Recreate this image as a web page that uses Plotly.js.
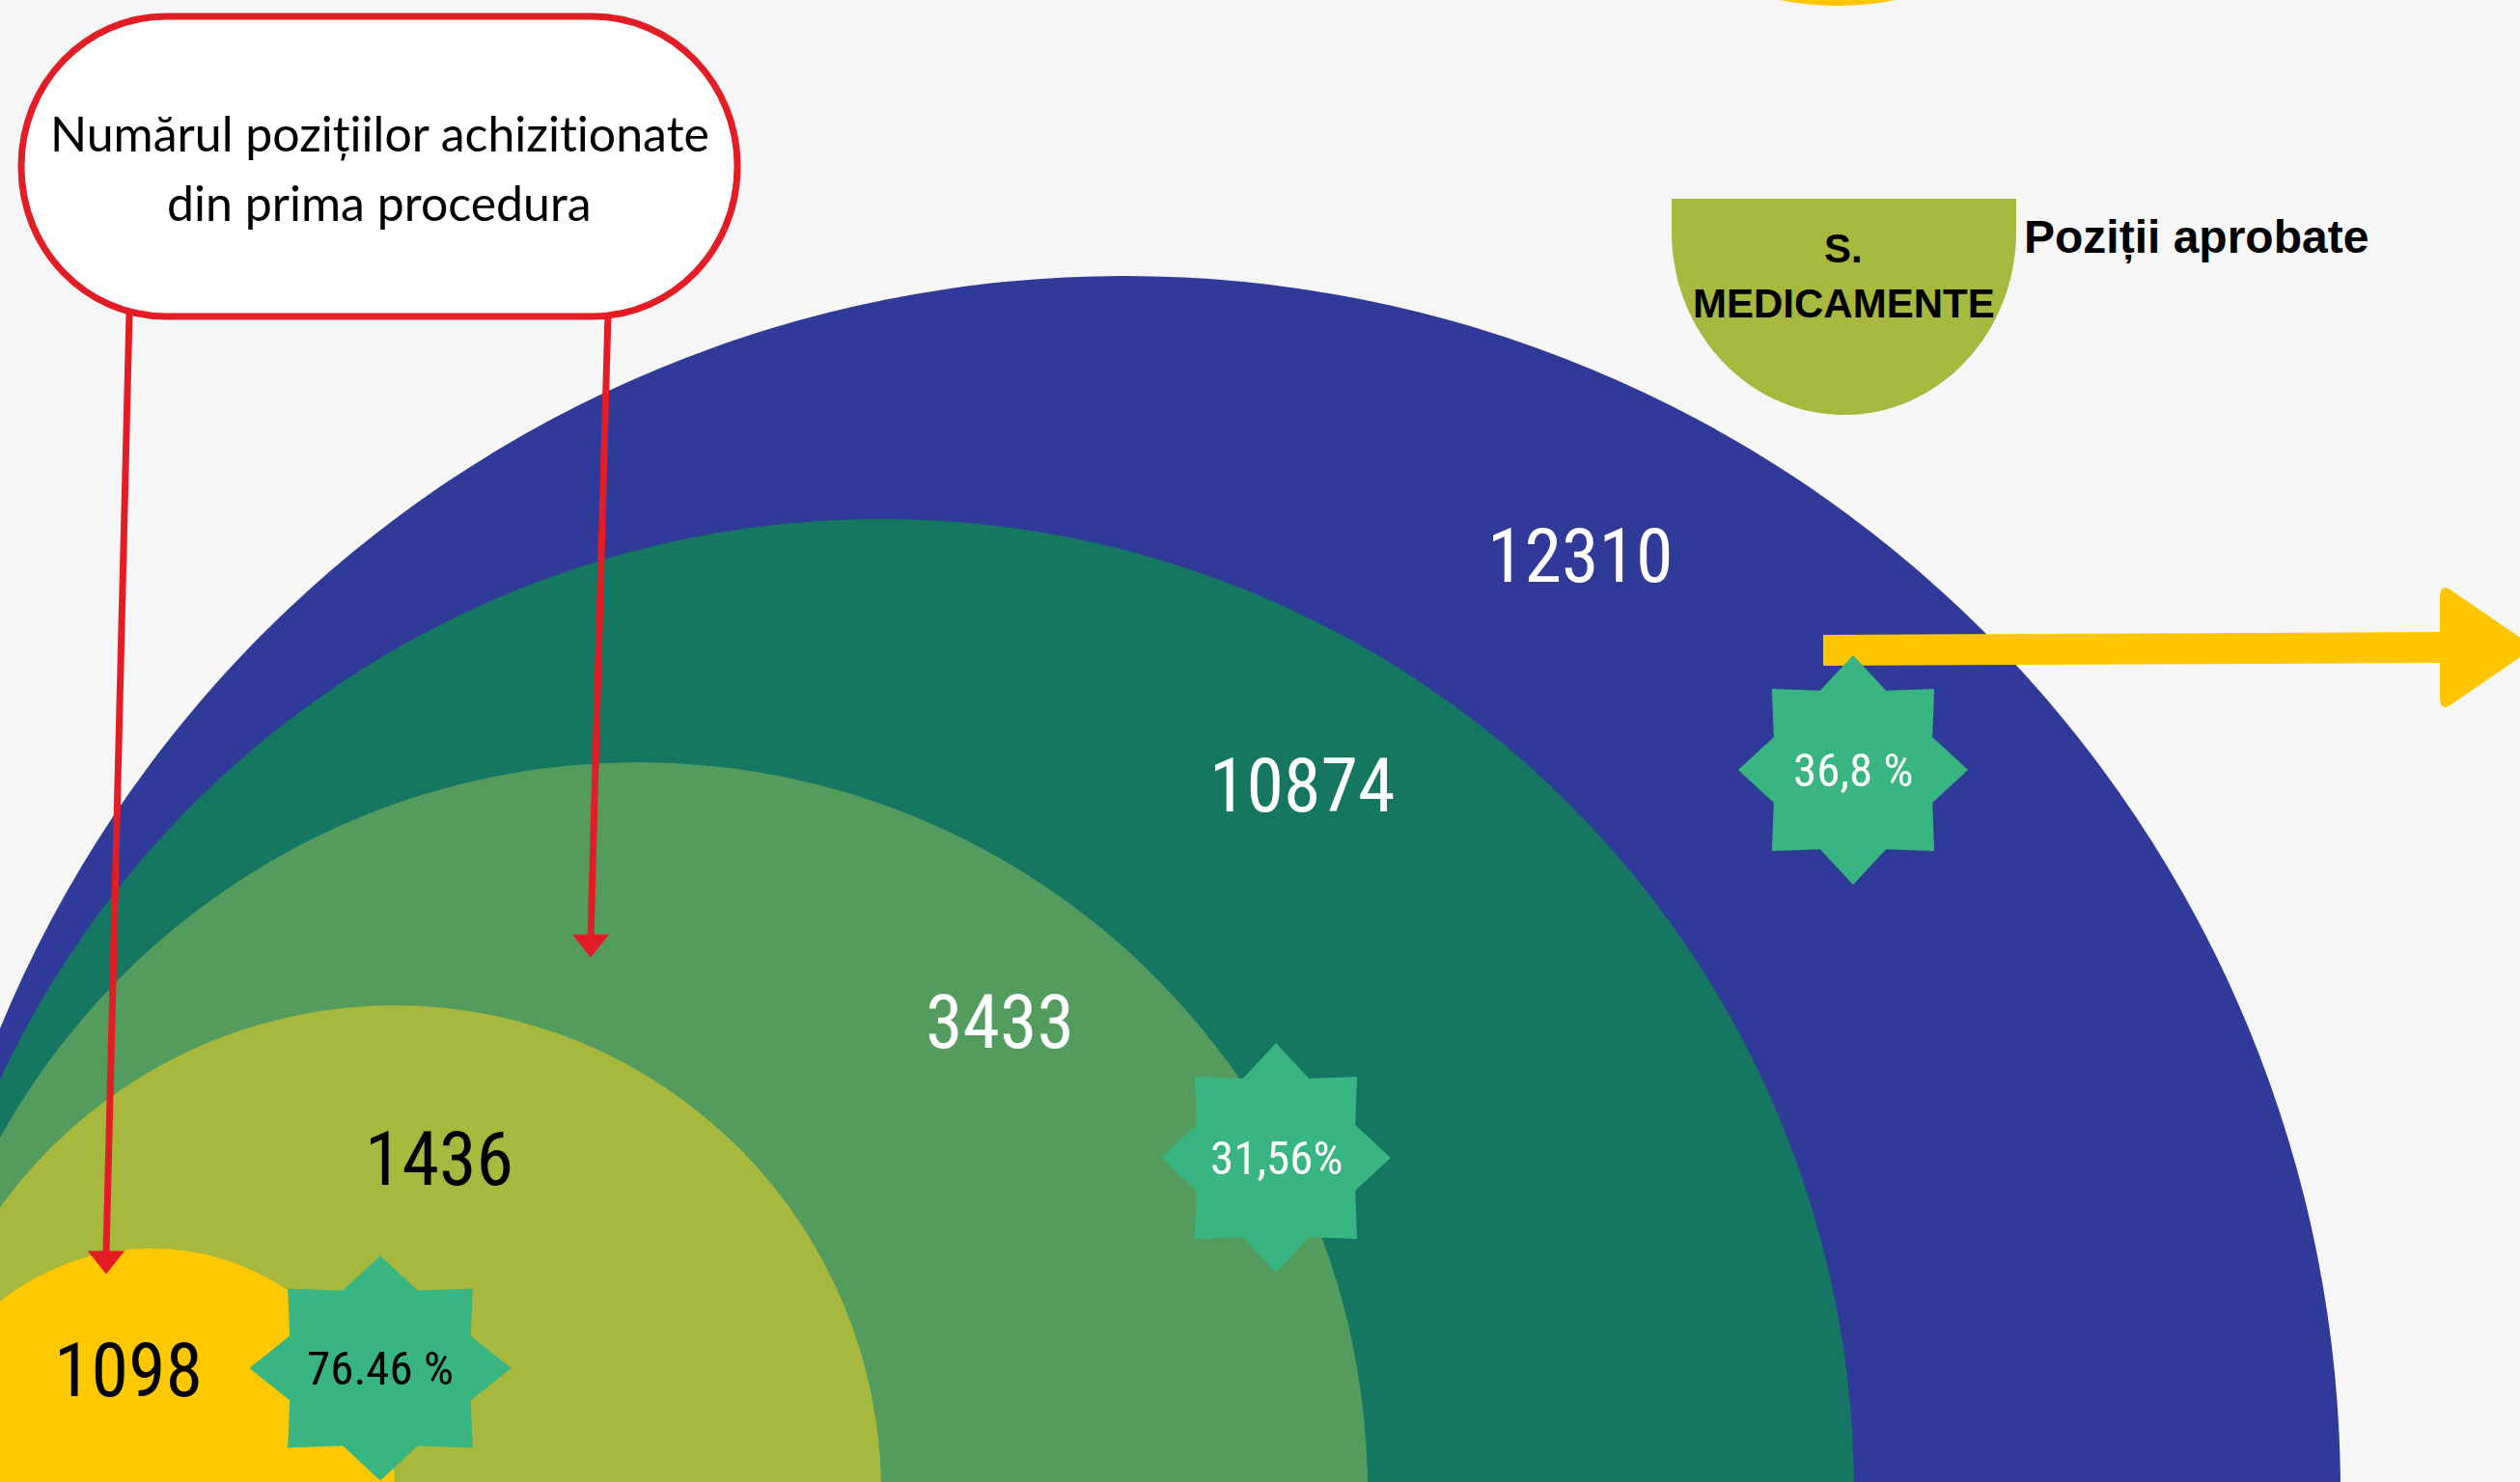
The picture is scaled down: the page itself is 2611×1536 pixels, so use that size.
<!DOCTYPE html>
<html>
<head>
<meta charset="utf-8">
<script src="https://cdn.plot.ly/plotly-3.0.1.min.js"></script>
<style>
  html, body { margin: 0; padding: 0; background: #f6f6f6; }
  #chart { width: 2611px; height: 1536px; }
  svg text { font-variant-ligatures: none; font-feature-settings: "liga" 0, "clig" 0; }
</style>
</head>
<body>
<div id="chart"></div>
<script>
// ---------------- DATA ----------------
const ringValues = [12310, 10874, 3433, 1436, 1098];
const ringLabels = ['12310', '10874', '3433', '1436', '1098'];
const percentLabels = ['36,8 %', '31,56%', '76.46 %'];
const calloutLines = ['Numărul pozițiilor achizitionate', 'din prima procedura'];
const legendLines = ['S.', 'MEDICAMENTE'];
const legendTitle = 'Poziții aprobate';

// ---------------- STYLE / GEOMETRY ----------------
const W = 2611, H = 1536;
const BG = '#f6f6f6';
const ringColors = ['#303a99', '#157762', '#549c5e', '#a7b83e', '#ffc800'];
const ringTextColors = ['#ffffff', '#ffffff', '#ffffff', '#000000', '#000000'];
const RING_STEP = 252, RING_LEFT = -95, RING_BASE_Y = 1546;
const labelPos = [[1637, 576], [1349, 814], [1036, 1059], [455, 1201], [133, 1420]];
const starColor = '#38b581';
const starGeom = [
  {cx: 1920, cy: 798, sx: 1, sy: 1, color: '#ffffff'},
  {cx: 1322, cy: 1200, sx: 1, sy: 1, color: '#ffffff'},
  {cx: 394, cy: 1418, sx: 1.14, sy: 0.98, color: '#000000'}
];
const STAR_R = 119, STAR_r = 89;
const RED = '#e31d25';
const YELLOW = '#ffc600';
const OLIVE = '#a7b83e';
const numFont = 'Liberation Sans Narrow, Roboto Condensed, Lato, sans-serif';
const txtFont = 'Lato, Liberation Sans, sans-serif';
const boldFont = 'Liberation Sans, Arial, sans-serif';

const shapes = [];

// nested rings, outer first
ringValues.forEach((v, k) => {
  const r = RING_STEP * (ringValues.length - k);
  const cx = RING_LEFT + r;
  shapes.push({
    type: 'circle', xref: 'x', yref: 'y',
    x0: cx - r, x1: cx + r, y0: RING_BASE_Y - r, y1: RING_BASE_Y + r,
    fillcolor: ringColors[k], line: {width: 0}, layer: 'above'
  });
});

// helper: rounded rectangle with elliptical corners
function roundRect(x0, y0, x1, y1, rx, ry) {
  const k = 0.5523;
  return `M${x0 + rx},${y0} L${x1 - rx},${y0} ` +
    `C${x1 - rx + k * rx},${y0} ${x1},${y0 + ry - k * ry} ${x1},${y0 + ry} ` +
    `L${x1},${y1 - ry} C${x1},${y1 - ry + k * ry} ${x1 - rx + k * rx},${y1} ${x1 - rx},${y1} ` +
    `L${x0 + rx},${y1} C${x0 + rx - k * rx},${y1} ${x0},${y1 - ry + k * ry} ${x0},${y1 - ry} ` +
    `L${x0},${y0 + ry} C${x0},${y0 + ry - k * ry} ${x0 + rx - k * rx},${y0} ${x0 + rx},${y0} Z`;
}

// red arrows from callout (drawn before the box)
function redArrow(xs, ys, xe, ye) {
  const hh = 20, hw = 16;
  shapes.push({type: 'line', xref: 'x', yref: 'y', x0: xs, y0: ys, x1: xe, y1: ye - hh + 2,
    line: {color: RED, width: 7}});
  shapes.push({type: 'path', xref: 'x', yref: 'y',
    path: `M${xe - hw},${ye - hh} L${xe + hw},${ye - hh} L${xe},${ye} Z`,
    fillcolor: RED, line: {color: RED, width: 3}});
}
redArrow(134, 325, 110, 1318);
redArrow(630, 325, 612, 990);

// callout box
shapes.push({type: 'path', xref: 'x', yref: 'y',
  path: roundRect(22, 17, 764, 328, 150, 155),
  fillcolor: '#ffffff', line: {color: RED, width: 7}});

// legend shape (S. MEDICAMENTE)
(function () {
  const x0 = 1732, x1 = 2089, top = 206, ey = 240, ry = 190;
  const cx = (x0 + x1) / 2, rx = (x1 - x0) / 2, k = 0.5523;
  shapes.push({type: 'path', xref: 'x', yref: 'y',
    path: `M${x0},${top} L${x1},${top} L${x1},${ey} ` +
      `C${x1},${ey + k * ry} ${cx + k * rx},${ey + ry} ${cx},${ey + ry} ` +
      `C${cx - k * rx},${ey + ry} ${x0},${ey + k * ry} ${x0},${ey} Z`,
    fillcolor: OLIVE, line: {width: 0}});
})();

// cropped yellow legend shape at the very top
shapes.push({type: 'circle', xref: 'x', yref: 'y',
  x0: 1904 - 300, x1: 1904 + 300, y0: -594, y1: 6,
  fillcolor: YELLOW, line: {width: 0}});

// yellow arrow
shapes.push({type: 'path', xref: 'x', yref: 'y',
  path: 'M1889,658 L2528,655 L2528,620 Q2528,603 2540,612 L2626,671 L2540,730 Q2528,739 2528,722 L2528,687 L1889,690 Z',
  fillcolor: YELLOW, line: {width: 0}});

// stars
function starPath(g) {
  let p = '';
  for (let i = 0; i < 16; i++) {
    const a = -Math.PI / 2 + i * Math.PI / 8;
    const rr = (i % 2 === 0) ? STAR_R : STAR_r;
    const x = g.cx + rr * Math.cos(a) * g.sx;
    const y = g.cy + rr * Math.sin(a) * g.sy;
    p += (i === 0 ? 'M' : 'L') + x.toFixed(1) + ',' + y.toFixed(1) + ' ';
  }
  return p + 'Z';
}
starGeom.forEach(g => shapes.push({type: 'path', xref: 'x', yref: 'y',
  path: starPath(g), fillcolor: starColor, line: {width: 0}}));

// ---------------- ANNOTATIONS ----------------
const annotations = [];
ringLabels.forEach((t, k) => annotations.push({
  x: labelPos[k][0], y: labelPos[k][1], xref: 'x', yref: 'y', text: t, showarrow: false,
  xanchor: 'center', yanchor: 'middle',
  font: {family: numFont, size: 78, color: ringTextColors[k]}
}));
percentLabels.forEach((t, i) => annotations.push({
  x: starGeom[i].cx, y: starGeom[i].cy, xref: 'x', yref: 'y', text: t, showarrow: false,
  xanchor: 'center', yanchor: 'middle',
  font: {family: numFont, size: 49, color: starGeom[i].color}
}));
calloutLines.forEach((t, i) => annotations.push({
  x: 393, y: 138 + i * 72, xref: 'x', yref: 'y', text: t, showarrow: false,
  xanchor: 'center', yanchor: 'middle',
  font: {family: txtFont, size: 50, color: '#000000'}
}));
legendLines.forEach((t, i) => annotations.push({
  x: 1910, y: 257 + i * 57, xref: 'x', yref: 'y', text: '<b>' + t + '</b>', showarrow: false,
  xanchor: 'center', yanchor: 'middle',
  font: {family: boldFont, size: 42, color: '#000000'}
}));
annotations.push({
  x: 2095, y: 246, xref: 'x', yref: 'y', text: '<b>' + legendTitle + '</b>', showarrow: false,
  xanchor: 'left', yanchor: 'middle',
  font: {family: boldFont, size: 48, color: '#000000'}
});

const layout = {
  width: W, height: H,
  margin: {l: 0, r: 0, t: 0, b: 0, pad: 0},
  paper_bgcolor: BG, plot_bgcolor: BG,
  showlegend: false,
  xaxis: {range: [0, W], visible: false, fixedrange: true},
  yaxis: {range: [H, 0], visible: false, fixedrange: true},
  shapes: shapes,
  annotations: annotations
};

Plotly.newPlot('chart', [{x: [], y: [], type: 'scatter', mode: 'markers', hoverinfo: 'skip'}], layout,
  {staticPlot: true, displayModeBar: false});
</script>
</body>
</html>
